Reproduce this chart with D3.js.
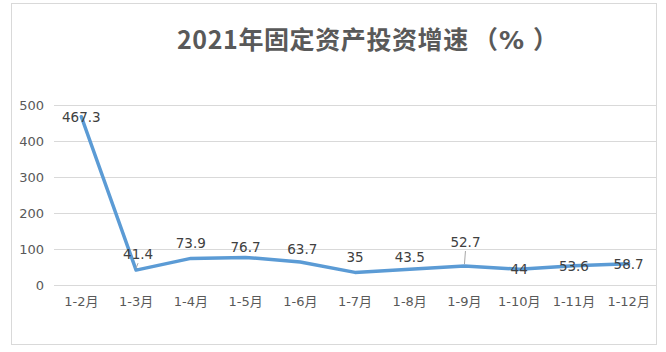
<!DOCTYPE html>
<html>
<head>
<meta charset="utf-8">
<script src="https://cdn.jsdelivr.net/npm/d3@7"></script>
<style>
  body { margin: 0; background: #fff; }
  text { font-family: "DejaVu Sans", "Noto Sans CJK SC", sans-serif; }
</style>
</head>
<body>
<div id="chart"></div>
<script>
// chart data
const periods = ["1-2月", "1-3月", "1-4月", "1-5月", "1-6月", "1-7月", "1-8月", "1-9月", "1-10月", "1-11月", "1-12月"];
const growth = [467.3, 41.4, 73.9, 76.7, 63.7, 35, 43.5, 52.7, 44, 53.6, 58.7];
const yTicks = [0, 100, 200, 300, 400, 500];
const titleMain = "2021年固定资产投资增速";

// label placement (Excel-style auto layout), px relative to the point
const labelDx = [0, 2, 0, 0, 2, 0, 0, 1, 0, 0, 0];
const labelDy = [0, -16, -15, -10, -13.5, -15, -12, -24, 0, 0, 0];
const leaderIdx = [1, 7];

const W = 666, H = 352;

const svg = d3.select("#chart")
    .append("svg")
    .attr("width", W)
    .attr("height", H);

// chart frame
svg.append("rect")
    .attr("x", 11.5)
    .attr("y", 3.5)
    .attr("width", 645)
    .attr("height", 341)
    .attr("fill", "#fff")
    .attr("stroke", "#d9d9d9");

// title - the full-width parens get their own slots so they keep full width
const title = svg.append("text")
    .attr("x", 177)
    .attr("y", 49)
    .style("font-family", "'Noto Sans CJK SC', sans-serif")
    .style("font-size", "25px")
    .style("font-weight", "bold")
    .attr("fill", "#595959");
title.append("tspan").style("letter-spacing", "0.6px").text(titleMain);
title.append("tspan").attr("x", 473).text("（");
title.append("tspan").attr("x", 499).style("font-family", "'DejaVu Sans', sans-serif").text("%");
title.append("tspan").attr("x", 533).text("）");

// scales
const x = d3.scaleBand()
    .domain(periods)
    .range([54, 656]);

const y = d3.scaleLinear()
    .domain([0, 500])
    .range([285, 105]);

const cx = d => x(d) + x.bandwidth() / 2;

// gridlines
svg.append("g")
    .selectAll("line")
    .data(yTicks)
    .enter()
    .append("line")
    .attr("x1", 54)
    .attr("x2", 656)
    .attr("y1", d => y(d) + 0.5)
    .attr("y2", d => y(d) + 0.5)
    .attr("stroke", "#d9d9d9")
    .attr("stroke-width", 1);

// y axis labels
const yAxis = svg.append("g")
    .attr("transform", "translate(54,0)")
    .call(d3.axisLeft(y).tickValues(yTicks).tickSize(0).tickPadding(10));
yAxis.select(".domain").remove();
yAxis.selectAll("text")
    .style("font-size", "13px")
    .style("font-family", "'DejaVu Sans', sans-serif")
    .attr("fill", "#595959");

// x axis labels
const xAxis = svg.append("g")
    .attr("transform", "translate(0,285)")
    .call(d3.axisBottom(x).tickSize(0).tickPadding(12));
xAxis.select(".domain").remove();
xAxis.selectAll("text")
    .style("font-size", "13px")
    .style("font-family", "'DejaVu Sans', 'Noto Sans CJK SC', sans-serif")
    .attr("fill", "#595959");

// the line
const line = d3.line()
    .x((d, i) => cx(periods[i]))
    .y(d => y(d));

svg.append("path")
    .datum(growth)
    .attr("fill", "none")
    .attr("stroke", "#5b9bd5")
    .attr("stroke-width", 3.5)
    .attr("stroke-linejoin", "round")
    .attr("stroke-linecap", "round")
    .attr("d", line);

// leader lines for displaced labels
svg.append("g")
    .selectAll("line")
    .data(leaderIdx)
    .enter()
    .append("line")
    .attr("x1", i => cx(periods[i]) + labelDx[i])
    .attr("y1", i => y(growth[i]) + labelDy[i] + 9)
    .attr("x2", i => cx(periods[i]))
    .attr("y2", i => y(growth[i]) - 2)
    .attr("stroke", "#a6a6a6")
    .attr("stroke-width", 1);

// data labels
svg.append("g")
    .selectAll("text")
    .data(growth)
    .enter()
    .append("text")
    .attr("x", (d, i) => cx(periods[i]) + labelDx[i])
    .attr("y", (d, i) => y(d) + labelDy[i])
    .attr("text-anchor", "middle")
    .attr("dominant-baseline", "central")
    .style("font-size", "13.5px")
    .attr("fill", "#404040")
    .text(d => d);
</script>
</body>
</html>
